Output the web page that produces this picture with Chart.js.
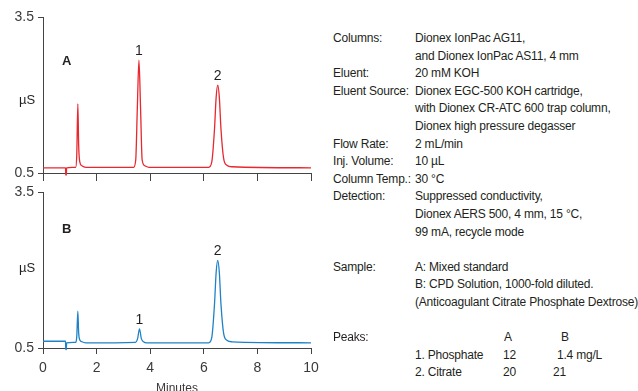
<!DOCTYPE html>
<html>
<head>
<meta charset="utf-8">
<script src="https://cdn.jsdelivr.net/npm/chart.js@4.4.1/dist/chart.umd.min.js"></script>
<style>
  body { margin: 0; background: #fff; }
  #wrap { position: relative; width: 638px; height: 391px; overflow: hidden; font-family: 'Liberation Sans Narrow', 'Arial Narrow', 'Liberation Sans', sans-serif; color: #231f20; }
  canvas { position: absolute; left: 0; }
  .lbl { position: absolute; font-size: 13px; }
  .panel { position: absolute; font-size: 13px; font-weight: bold; font-family: 'Liberation Sans', sans-serif; }
  #info { position: absolute; left: 333px; top: 30px; font-size: 12px; line-height: 17.6px; letter-spacing: -0.2px; }
  #info .row { height: 17.6px; white-space: nowrap; position: relative; }
  #info .k { position: absolute; left: 0; }
  #info .v { position: absolute; left: 82px; }
</style>
</head>
<body>
<div id="wrap">
  <canvas id="chartA" width="330" height="186" style="top:0"></canvas>
  <canvas id="chartB" width="330" height="211" style="top:180px"></canvas>
  <div class="lbl" style="left:19px; top:92px">µS</div>
  <div class="lbl" style="left:19px; top:260px">µS</div>
  <div class="panel" style="left:62px; top:53px">A</div>
  <div class="panel" style="left:62px; top:221px">B</div>
  <div id="info"></div>
</div>
<script>
// chromatogram A: mixed standard
var timesA  = [0, 0.84, 0.85, 0.87, 0.88, 1.22, 1.26, 1.30, 1.33, 1.37, 1.45, 1.6,
               3.38, 3.46, 3.52, 3.58, 3.64, 3.70, 3.80, 3.95,
               6.18, 6.30, 6.40, 6.46, 6.52, 6.58, 6.64, 6.74, 6.86, 7.05, 10];
var signalA = [0.60, 0.60, 0.46, 0.46, 0.60, 0.61, 0.85, 1.83, 1.05, 0.72, 0.64, 0.61,
               0.61, 0.75, 1.75, 2.67, 1.75, 0.75, 0.64, 0.61,
               0.61, 0.72, 1.35, 1.95, 2.19, 1.95, 1.35, 0.78, 0.65, 0.62, 0.60];

// chromatogram B: CPD solution
var timesB  = [0, 0.84, 0.85, 0.87, 0.88, 1.22, 1.26, 1.30, 1.33, 1.37, 1.45, 1.6,
               3.45, 3.53, 3.60, 3.67, 3.75, 3.88,
               6.18, 6.30, 6.40, 6.46, 6.52, 6.58, 6.64, 6.74, 6.86, 7.05, 10];
var signalB = [0.63, 0.63, 0.47, 0.47, 0.60, 0.61, 0.72, 1.21, 0.80, 0.66, 0.62, 0.60,
               0.61, 0.68, 0.87, 0.68, 0.62, 0.60,
               0.60, 0.71, 1.35, 1.95, 2.19, 1.95, 1.35, 0.78, 0.65, 0.62, 0.60];

var peakNames = ['1', '2'];
var peakTimesA = [3.58, 6.52];
var peakTimesB = [3.60, 6.52];

var xTicks = [0, 2, 4, 6, 8, 10];
var yTicks = [0.5, 3.5];

var infoRows = [
  ['Columns:', 'Dionex IonPac AG11,'],
  ['', 'and Dionex IonPac AS11, 4 mm'],
  ['Eluent:', '20 mM KOH'],
  ['Eluent Source:', 'Dionex EGC-500 KOH cartridge,'],
  ['', 'with Dionex CR-ATC 600 trap column,'],
  ['', 'Dionex high pressure degasser'],
  ['Flow Rate:', '2 mL/min'],
  ['Inj. Volume:', '10 µL'],
  ['Column Temp.:', '30 °C'],
  ['Detection:', 'Suppressed conductivity,'],
  ['', 'Dionex AERS 500, 4 mm, 15 °C,'],
  ['', '99 mA, recycle mode'],
  ['', ''],
  ['Sample:', 'A: Mixed standard'],
  ['', 'B: CPD Solution, 1000-fold diluted.'],
  ['', '(Anticoagulant Citrate Phosphate Dextrose)'],
  ['', '']
];
var peakTable = [
  ['Peaks:', '', 'A', 'B'],
  ['', '1. Phosphate', '12', '1.4  mg/L'],
  ['', '2. Citrate', '20', '21']
];

// info text on the right
var info = document.getElementById('info');
infoRows.forEach(function (r) {
  var d = document.createElement('div');
  d.className = 'row';
  d.innerHTML = '<span class="k">' + r[0] + '</span><span class="v">' + r[1] + '</span>';
  info.appendChild(d);
});
peakTable.forEach(function (r, i) {
  var d = document.createElement('div');
  d.className = 'row';
  if (i == 0) {
    d.innerHTML = '<span class="k">' + r[0] + '</span>' +
      '<span style="position:absolute;left:171px">' + r[2] + '</span>' +
      '<span style="position:absolute;left:228px">' + r[3] + '</span>';
  } else {
    d.innerHTML = '<span class="v">' + r[1] + '</span>' +
      '<span style="position:absolute;left:170px">' + r[2] + '</span>' +
      '<span style="position:absolute;left:' + (i == 1 ? 224 : 220) + 'px">' + r[3] + '</span>';
  }
  info.appendChild(d);
});

var peakLabels = {
  id: 'peakLabels',
  afterDatasetsDraw: function (chart, args, opts) {
    var ctx = chart.ctx;
    var data = chart.data.datasets[0].data;
    ctx.save();
    ctx.fillStyle = '#231f20';
    ctx.font = '14px "Liberation Sans", sans-serif';
    ctx.textAlign = 'center';
    ctx.textBaseline = 'bottom';
    opts.times.forEach(function (t, i) {
      var pt = data.find(function (p) { return p.x === t; });
      ctx.fillText(peakNames[i], chart.scales.x.getPixelForValue(t), chart.scales.y.getPixelForValue(pt.y) - 2);
    });
    ctx.restore();
  }
};

function makeChart(id, times, signal, color, peakTimes, showLabels, padTop, xHeight) {
  var pts = times.map(function (t, i) { return { x: t, y: signal[i] }; });
  return new Chart(document.getElementById(id), {
    type: 'line',
    data: {
      datasets: [{
        data: pts,
        borderColor: color,
        borderWidth: 1.3,
        pointRadius: 0,
        cubicInterpolationMode: 'monotone',
        clip: 6
      }]
    },
    options: {
      responsive: false,
      animation: false,
      layout: { padding: { top: padTop, right: 19, left: 0, bottom: 0 } },
      plugins: {
        legend: { display: false },
        tooltip: { enabled: false },
        peakLabels: { times: peakTimes }
      },
      scales: {
        x: {
          type: 'linear', min: 0, max: 10,
          afterBuildTicks: function (s) { s.ticks = xTicks.map(function (v) { return { value: v }; }); },
          afterFit: function (s) { s.height = xHeight; },
          grid: { drawOnChartArea: false, drawTicks: true, tickLength: showLabels ? 6 : 8, color: '#444' },
          border: { color: '#444', width: 1 },
          ticks: {
            display: showLabels, color: '#3a3a3a', padding: 6,
            font: { family: 'Liberation Sans', size: 14 }
          },
          title: {
            display: showLabels, text: 'Minutes', color: '#3a3a3a',
            font: { family: 'Liberation Sans', size: 12 }, padding: { top: 0, bottom: -5 }
          }
        },
        y: {
          type: 'linear', min: 0.5, max: 3.5,
          afterBuildTicks: function (s) { s.ticks = yTicks.map(function (v) { return { value: v }; }); },
          afterFit: function (s) { s.width = 43; },
          grid: { drawOnChartArea: false, drawTicks: true, tickLength: 5, color: '#444' },
          border: { color: '#444', width: 1 },
          ticks: {
            color: '#3a3a3a', padding: 4,
            font: { family: 'Liberation Sans', size: 14 },
            callback: function (v) { return v.toFixed(1); }
          }
        }
      }
    },
    plugins: [peakLabels]
  });
}

makeChart('chartA', timesA, signalA, '#e8282e', peakTimesA, false, 17, 13);
makeChart('chartB', timesB, signalB, '#1f82c6', peakTimesB, true, 12, 43);
</script>
</body>
</html>
